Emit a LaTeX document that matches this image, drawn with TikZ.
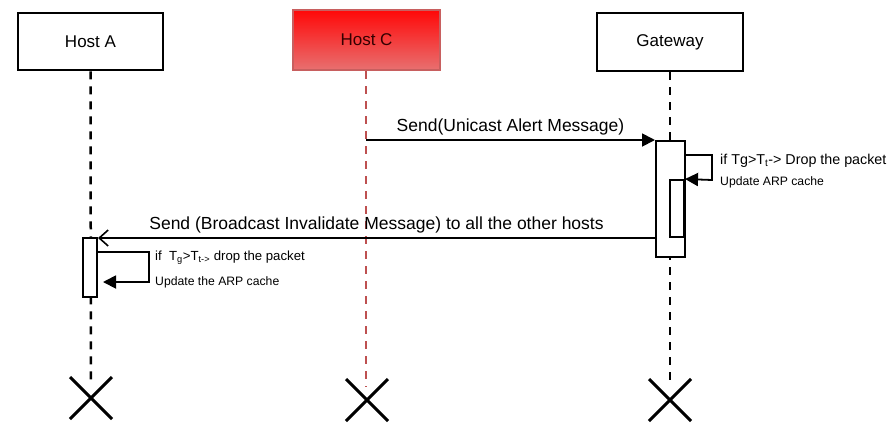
\documentclass[tikz,border=0pt]{standalone}
\usepackage{fontspec}
\setmainfont{Liberation Sans}
\usetikzlibrary{arrows.meta}

\definecolor{alertred}{RGB}{255,8,8}
\definecolor{alertpale}{RGB}{232,112,112}
\definecolor{alertedge}{RGB}{200,95,95}
\definecolor{alertline}{RGB}{190,80,80}

\tikzset{
  hostbox/.style={draw, line width=2.5pt, minimum width=145pt, minimum height=57pt,
    inner sep=0pt, font=\fontsize{17}{20}\selectfont},
  lifeline/.style={line width=2.5pt, dash pattern=on 8pt off 7pt},
  actbox/.style={draw, line width=2pt, fill=white, inner sep=0pt, minimum width=14pt},
  syncmsg/.style={line width=1.8pt, -{Triangle[length=13pt,width=13pt]}},
  replymsg/.style={line width=1.6pt, -{Straight Barb[length=9pt,width=16pt]}},
  msglabel/.style={font=\fontsize{17.5}{20}\selectfont},
  notelabel/.style={font=\fontsize{12.2}{14}\selectfont, anchor=west, inner sep=0pt},
  destroy/.style={line width=3pt},
}

\begin{document}
\begin{tikzpicture}[x=1pt,y=-1pt]
\useasboundingbox (0,0) rectangle (893,424);
% hosts
\node[hostbox] (hostA) at (90.5,41.5) {Host A};
\node[hostbox, draw=alertedge, top color=alertred, bottom color=alertpale,
  minimum width=147pt, minimum height=60pt, text=black!80!red] (hostC) at (366.5,40) {Host C};
\node[hostbox, minimum width=146pt, minimum height=58pt] (gateway) at (670,42) {Gateway};
% lifelines
\coordinate (endA) at (91,386);
\coordinate (endC) at (366,387);
\coordinate (endG) at (670,386);
\draw[lifeline] (hostA.south) -- (endA);
\draw[lifeline, line width=2pt, draw=alertline] (hostC.south -| endC) -- (endC);
\draw[lifeline] (gateway.south) -- (endG);
% activations
\node[actbox, minimum width=29pt, minimum height=116pt] (gwAct) at (670.5,199) {};
\node[actbox, minimum height=57pt] (gwSub) at (677,208.5) {};
\node[actbox, minimum height=59pt] (aAct) at (90,267.5) {};
% messages
\coordinate (sendC) at (366,140);
\draw[syncmsg] (sendC) -- (sendC -| gwAct.west)
  node[msglabel, midway, above=1pt] {Send(Unicast Alert Message)};
\draw[replymsg] (gwSub.south -| gwAct.west) -- (gwSub.south -| aAct.east)
  node[msglabel, midway, above=1pt] {Send (Broadcast Invalidate Message) to all the other hosts};
% self calls
\draw[syncmsg] (gwAct.east |- 0,155) -- (712,155) -- (712,180) -- (gwSub.north east);
\node[notelabel, font=\fontsize{14.3}{17}\selectfont] (gwIf) at (720,161)
  {if Tg>T\textsubscript{t}-> Drop the packet};
\node[notelabel] (gwUpd) at (720,182) {Update ARP cache};
\draw[syncmsg, shorten >=5pt] (aAct.east |- 0,252) -- (149,252) -- (149,282) -- (aAct.east |- 0,282);
\node[notelabel, font=\fontsize{13.2}{15}\selectfont] (aIf) at (155,258)
  {if\ \ T\textsubscript{g}>T\textsubscript{t->} drop the packet};
\node[notelabel] (aUpd) at (155,282) {Update the ARP cache};
% ends
\coordinate (xA) at (91,398);
\coordinate (xC) at (367,400);
\coordinate (xG) at (670,400);
\foreach \c in {xA,xC,xG}
  \draw[destroy] (\c) ++(-21,-21) -- ++(42,42) (\c) ++(21,-21) -- ++(-42,42);
\end{tikzpicture}
\end{document}
